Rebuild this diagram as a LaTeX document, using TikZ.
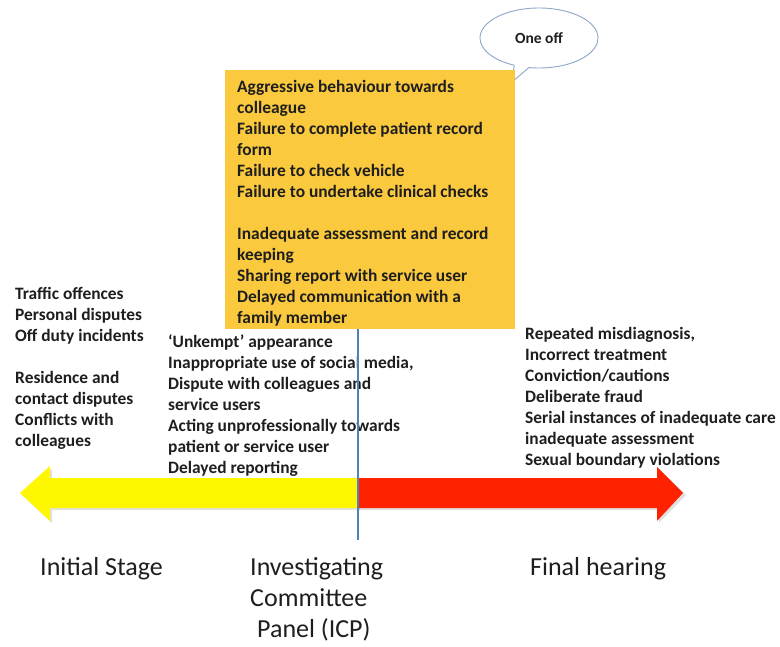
\documentclass[tikz,border=0pt]{standalone}
\usepackage{fontspec}
\setmainfont{Carlito}
\usetikzlibrary{shapes.callouts}
\definecolor{gold}{RGB}{250,201,62}
\definecolor{arrowyellow}{RGB}{255,247,0}
\definecolor{arrowred}{RGB}{255,34,0}
\definecolor{lineblue}{RGB}{79,129,189}
\definecolor{calloutline}{RGB}{140,165,200}
\definecolor{txt}{RGB}{30,30,30}
\tikzset{
  smalltxt/.style={anchor=base west, inner sep=0pt, text=txt, font=\fontsize{17.4}{21}\selectfont\bfseries},
  bigtxt/.style={anchor=base west, inner sep=0pt, text=txt, font=\fontsize{26}{31}\selectfont},
  shadowfill/.style={fill=black, opacity=0.12}
}
\newcommand{\lines}[1]{\begin{tabular}[t]{@{}l@{}}#1\end{tabular}}
\begin{document}
\begin{tikzpicture}[x=1pt,y=-1pt]
\useasboundingbox (0,0) rectangle (780,647);
% callout
\node[ellipse callout, draw=calloutline, line width=0.9pt, fill=white,
      minimum width=118pt, minimum height=60pt, inner sep=0pt,
      callout absolute pointer={(512,82)}, font=\fontsize{15.5}{18}\selectfont\bfseries, text=txt]
      (oneoff) at (539,38) {One off};
% yellow box
\node[fill=gold, minimum width=290pt, minimum height=259pt, inner sep=0pt, anchor=north west]
      (box) at (225,70) {};
\node[smalltxt] (boxtext) at (237,93) {\lines{Aggressive behaviour towards\\ colleague\\ Failure to complete patient record\\ form\\ Failure to check vehicle\\ Failure to undertake clinical checks\\ \\ Inadequate assessment and record\\ keeping\\ Sharing report with service user\\ Delayed communication with a\\ family member}};
% left text
\node[smalltxt] (lefttext) at (15,300) {\lines{Traffic offences\\ Personal disputes\\ Off duty incidents\\ \\ Residence and\\ contact disputes\\ Conflicts with\\ colleagues}};
% middle text
\node[smalltxt] (midtext) at (168,348) {\lines{`Unkempt' appearance\\ Inappropriate use of social media,\\ Dispute with colleagues and\\ service users\\ Acting unprofessionally towards\\ patient or service user\\ Delayed reporting}};
% right text
\node[smalltxt] (righttext) at (525,340) {\lines{Repeated misdiagnosis,\\ Incorrect treatment\\ Conviction/cautions\\ Deliberate fraud\\ Serial instances of inadequate care\\ inadequate assessment\\ Sexual boundary violations}};
% arrows
\coordinate (mid) at (358,493);
\fill[shadowfill] (360,480) -- (52,480) -- (52,469) -- (22,495) -- (52,523) -- (52,510) -- (360,510) -- cycle;
\fill[shadowfill] (358,480) -- (659,480) -- (659,469) -- (686,495) -- (659,523) -- (659,510) -- (358,510) -- cycle;
\fill[arrowyellow] (358,478) -- (50,478) -- (50,466) -- (20,493) -- (50,521) -- (50,508) -- (358,508) -- cycle;
\fill[arrowred] (358,478) -- (657,478) -- (657,467) -- (683,493) -- (657,521) -- (657,508) -- (358,508) -- cycle;
% vertical line
\coordinate (lineend) at (358,540);
\draw[lineblue, line width=1.2pt] (box.south -| mid) -- (lineend);
% bottom labels
\node[bigtxt] (initial) at (40,575) {Initial Stage};
\node[bigtxt] (icp) at (250,575) {\fontsize{26}{31}\selectfont\lines{Investigating\\ Committee\\ \hspace{7pt}Panel (ICP)}};
\node[bigtxt] (final) at (530,575) {Final hearing};
\end{tikzpicture}
\end{document}
